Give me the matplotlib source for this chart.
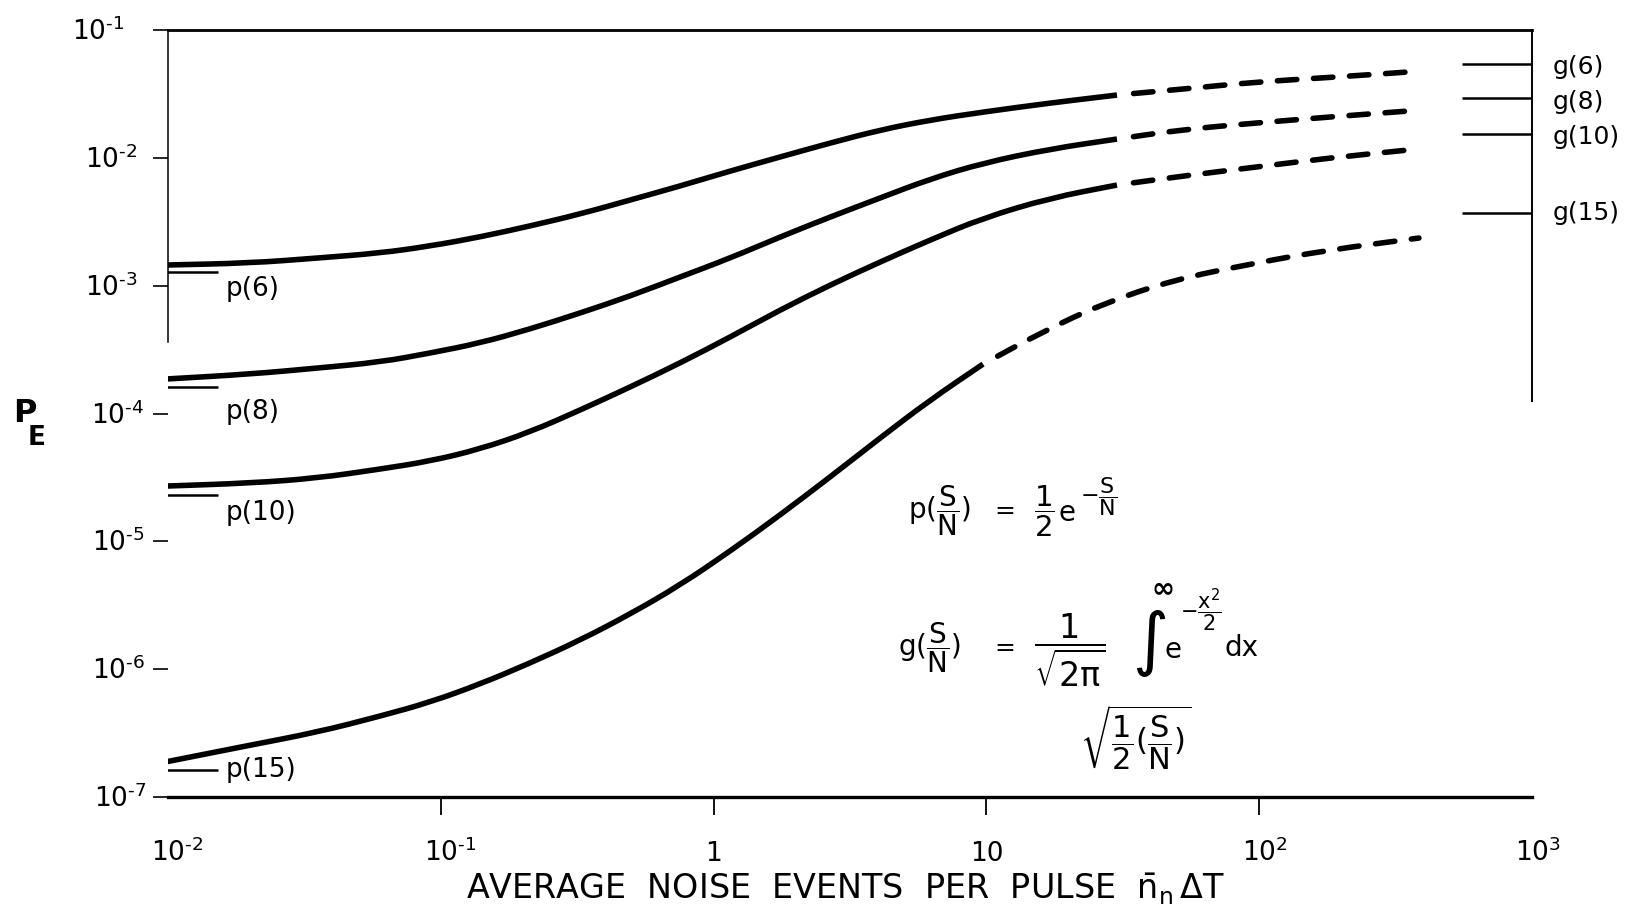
import matplotlib
matplotlib.use('Agg')
import matplotlib.pyplot as plt
import matplotlib.transforms as mtransforms
from matplotlib.ticker import NullLocator
from matplotlib.path import Path
from matplotlib.patches import PathPatch

plt.rcParams['font.family'] = ['DejaVu Sans']
plt.rcParams['mathtext.fontset'] = 'dejavusans'
plt.rcParams['mathtext.default'] = 'regular'

# ---------------- data ----------------
# shared abscissae of the solid parts (S/N = 6, 8, 10) and dashed parts
x_solid = [0.0097, 0.020, 0.0352, 0.0599, 0.0913, 0.139, 0.212, 0.324, 0.494,
           0.753, 1.15, 1.75, 2.67, 4.07, 6.21, 9.72, 17.1, 30.1]
x_dash = [30.1, 52.6, 97.3, 180.3, 351.0]

pe6_solid = [1.449e-3, 1.502e-3, 1.644e-3, 1.799e-3, 2.041e-3, 2.401e-3, 2.927e-3, 3.633e-3, 4.675e-3,
             6.015e-3, 7.883e-3, 1.015e-2, 1.305e-2, 1.650e-2, 1.975e-2, 2.282e-2, 2.684e-2, 3.099e-2]
pe6_dash = [3.099e-2, 3.453e-2, 3.917e-2, 4.25e-2, 4.692e-2]

pe8_solid = [1.858e-4, 2.033e-4, 2.265e-4, 2.524e-4, 2.969e-4, 3.555e-4, 4.574e-4, 6.103e-4, 8.291e-4,
             1.168e-3, 1.644e-3, 2.401e-3, 3.441e-3, 4.846e-3, 6.824e-3, 9.107e-3, 1.172e-2, 1.403e-2]
pe8_dash = [1.403e-2, 1.665e-2, 1.873e-2, 2.085e-2, 2.323e-2]

pe10_solid = [2.703e-5, 2.853e-5, 3.123e-5, 3.672e-5, 4.240e-5, 5.263e-5, 7.153e-5, 1.063e-4, 1.609e-4,
              2.480e-4, 3.960e-4, 6.444e-4, 1.011e-3, 1.530e-3, 2.274e-3, 3.381e-3, 4.846e-3, 6.125e-3]
pe10_dash = [6.125e-3, 7.205e-3, 8.472e-3, 9.963e-3, 1.151e-2]

x15_solid = [0.0097, 0.020, 0.0352, 0.0599, 0.0913, 0.139, 0.212, 0.324, 0.494,
             0.753, 1.15, 1.75, 2.67, 4.07, 6.21, 9.72]
pe15_solid = [1.873e-7, 2.543e-7, 3.213e-7, 4.287e-7, 5.516e-7, 7.631e-7, 1.114e-6, 1.686e-6, 2.694e-6,
              4.543e-6, 8.381e-6, 1.603e-5, 3.179e-5, 6.419e-5, 1.273e-4, 2.435e-4]
x15_dash = [9.72, 16.0, 26.5, 48.3, 92.5, 178.7, 385.0]
pe15_dash = [2.435e-4, 4.334e-4, 7.178e-4, 1.106e-3, 1.476e-3, 1.899e-3, 2.358e-3]

# asymptotes
p_labels = ['p(6)', 'p(8)', 'p(10)', 'p(15)']
p_levels = [1.28e-3, 1.61e-4, 2.30e-5, 1.62e-7]
p_label_y = [9.4e-4, 1.03e-4, 1.66e-5, 1.62e-7]
g_labels = ['g(6)', 'g(8)', 'g(10)', 'g(15)']
g_levels = [5.42e-2, 2.94e-2, 1.54e-2, 3.70e-3]
g_label_y = [5.13e-2, 2.73e-2, 1.455e-2, 3.70e-3]

HY = '\u2010'  # short hyphen used in the exponents
x_tick_vals = [1e-2, 1e-1, 1, 10, 1e2, 1e3]
x_tick_labels = ['$10^{' + HY + '2}$', '$10^{' + HY + '1}$', '1', '10', '$10^{2}$', '$10^{3}$']
y_tick_vals = [1e-1, 1e-2, 1e-3, 1e-4, 1e-5, 1e-6, 1e-7]
y_tick_labels = ['$10^{' + HY + '%d}$' % k for k in range(1, 8)]

# ---------------- figure ----------------
W, H = 1625, 915
fig = plt.figure(figsize=(W / 100, H / 100), dpi=100)
L, R, T, B = 168, 1532, 30, 797
ax = fig.add_axes([L / W, 1 - B / H, (R - L) / W, (B - T) / H])
ax.set_xscale('log')
ax.set_yscale('log')
ax.set_xlim(1e-2, 1e3)
ax.set_ylim(1e-7, 1e-1)

ax.spines['left'].set_bounds(10 ** -3.44, 0.1)
ax.spines['left'].set_linewidth(1.1)
ax.spines['right'].set_bounds(10 ** -3.9, 0.1)
ax.spines['right'].set_linewidth(1.4)
ax.spines['top'].set_linewidth(2.0)
ax.spines['bottom'].set_linewidth(2.4)

ax.xaxis.set_minor_locator(NullLocator())
ax.yaxis.set_minor_locator(NullLocator())
ax.set_xticks([1e-1, 1, 10, 1e2])
ax.set_xticklabels([])
ax.set_yticks(y_tick_vals)
ax.set_yticklabels([])
ax.tick_params(axis='x', which='major', direction='out', length=13, width=1.3, bottom=True, top=False)
ax.tick_params(axis='y', which='major', direction='out', length=11, width=1.2, left=True, right=False)

lab_fs = 19
xtr = mtransforms.blended_transform_factory(ax.transData, ax.transAxes)
for v, lab in zip(x_tick_vals, x_tick_labels):
    if lab.startswith('$'):
        tr = mtransforms.offset_copy(xtr, fig=fig, x=-17, y=-64, units='dots')
        ax.text(v, 0, lab, transform=tr, ha='left', va='baseline', fontsize=lab_fs)
    else:
        tr = mtransforms.offset_copy(xtr, fig=fig, x=0, y=-64, units='dots')
        ax.text(v, 0, lab, transform=tr, ha='center', va='baseline', fontsize=lab_fs)

ytr = mtransforms.blended_transform_factory(ax.transAxes, ax.transData)
y_label_dx = [-44, -31, -30, -24, -23, -23, -21]
for v, lab, dx in zip(y_tick_vals, y_tick_labels, y_label_dx):
    tr = mtransforms.offset_copy(ytr, fig=fig, x=dx, y=-10, units='dots')
    ax.text(0, v, lab, transform=tr, ha='right', va='baseline', fontsize=lab_fs)


# smooth drawing: quadratic Bezier through the midpoints (midpoints taken in log space,
# which is the display space of the log axes)
def smooth_path(xs, ys):
    verts = [(xs[0], ys[0])]
    codes = [Path.MOVETO]
    n = len(xs)
    gm = lambda a, b: (a * b) ** 0.5
    verts.append((gm(xs[0], xs[1]), gm(ys[0], ys[1])))
    codes.append(Path.LINETO)
    for i in range(1, n - 1):
        verts.append((xs[i], ys[i]))
        verts.append((gm(xs[i], xs[i + 1]), gm(ys[i], ys[i + 1])))
        codes += [Path.CURVE3, Path.CURVE3]
    verts.append((xs[-1], ys[-1]))
    codes.append(Path.LINETO)
    return Path(verts, codes)


lw = 4.0
dash = (3.5, (3.5, 3.0))
for xs, ys, xd, yd in [(x_solid, pe6_solid, x_dash, pe6_dash),
                       (x_solid, pe8_solid, x_dash, pe8_dash),
                       (x_solid, pe10_solid, x_dash, pe10_dash),
                       (x15_solid, pe15_solid, x15_dash, pe15_dash)]:
    ps = PathPatch(smooth_path(xs, ys), fill=False, edgecolor='black', lw=lw,
                   capstyle='butt', joinstyle='round')
    ax.add_patch(ps)
    pdsh = PathPatch(smooth_path(xd, yd), fill=False, edgecolor='black', lw=lw,
                     linestyle=dash, capstyle='round', joinstyle='round')
    ax.add_patch(pdsh)

# p asymptotes and labels
for lab, lv, ly in zip(p_labels, p_levels, p_label_y):
    ax.plot([0.0097, 0.0153], [lv, lv], color='black', lw=1.8, solid_capstyle='butt')
    ax.text(0.0163, ly, lab, ha='left', va='center', fontsize=19)

# g asymptotes and labels
for lab, lv, ly in zip(g_labels, g_levels, g_label_y):
    ax.plot([553, 1000], [lv, lv], color='black', lw=1.8, solid_capstyle='butt', clip_on=False)
    ax.text(1186, ly, lab, ha='left', va='center', fontsize=18, clip_on=False)

# ---------------- free text (pixel positions) ----------------
ident = mtransforms.IdentityTransform()


def ptext(x, y, s, **kw):
    fig.text(x, H - y, s, transform=ident, **kw)


fs = 20
ptext(908, 511, r'$p(\dfrac{S}{N})$', va='center', ha='left', fontsize=fs)
ptext(1005, 511, '=', va='center', ha='center', fontsize=18)
ptext(1034, 511, r'$\dfrac{1}{2}$', va='center', ha='left', fontsize=21)
ptext(1058, 513, 'e', va='center', ha='left', fontsize=20)
ptext(1080, 497, r'$-\dfrac{S}{N}$', va='center', ha='left', fontsize=16)

ptext(898, 648, r'$g(\dfrac{S}{N})$', va='center', ha='left', fontsize=fs)
ptext(1005, 648, '=', va='center', ha='center', fontsize=18)
ptext(1034, 650, r'$\dfrac{1}{\sqrt{2\pi}}$', va='center', ha='left', fontsize=24)
ptext(1150, 643, '\u222B', va='center', ha='center', fontsize=50)
ptext(1163, 588, '\u221E', va='center', ha='center', fontsize=20, fontweight='bold')
ptext(1165, 650, 'e', va='center', ha='left', fontsize=20)
ptext(1180, 610, r'$-\dfrac{x^2}{2}$', va='center', ha='left', fontsize=15)
ptext(1224, 648, 'dx', va='center', ha='left', fontsize=20)
ptext(1080, 738, r'$\sqrt{\dfrac{1}{2}(\dfrac{S}{N})}$', va='center', ha='left', fontsize=22)

ptext(845, 889, r'AVERAGE  NOISE  EVENTS  PER  PULSE  $\bar{n}_{n}\,\Delta T$',
      ha='center', va='center', fontsize=24)
ptext(25, 414, 'P', ha='center', va='center', fontsize=23, fontweight='bold')
ptext(37, 438, 'E', ha='center', va='center', fontsize=19, fontweight='bold')

fig.savefig('out.png', dpi=100)
